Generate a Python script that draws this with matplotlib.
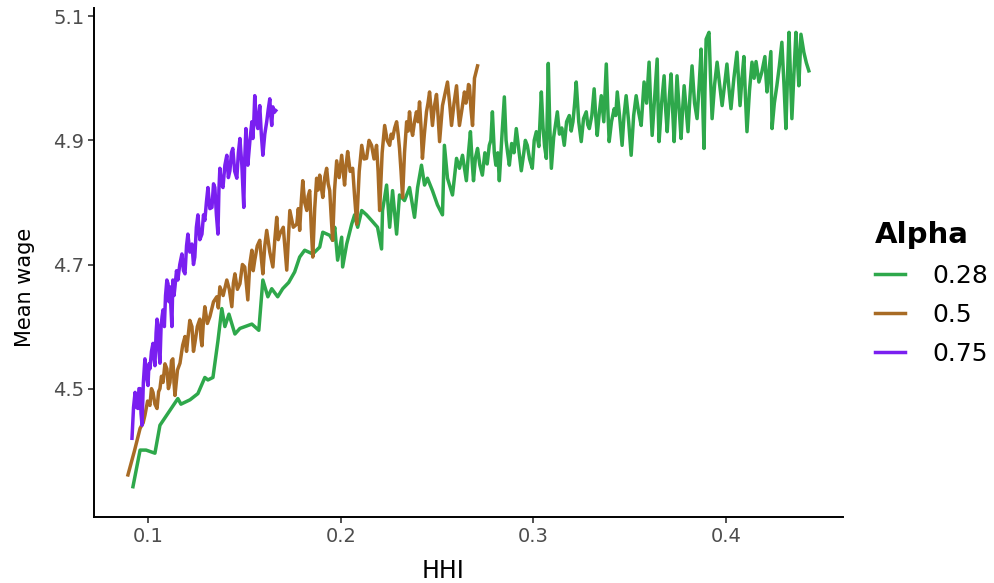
import matplotlib
matplotlib.use('Agg')
from matplotlib import pyplot as plt

# Alpha = 0.28 (green)
hhi_028 = [0.0922, 0.0959, 0.0990, 0.1036, 0.1062, 0.1114, 0.1155, 0.1171, 0.1218, 0.1259,
           0.1295, 0.1311, 0.1337, 0.1363, 0.1383, 0.1399, 0.1420, 0.1451, 0.1477, 0.1539,
           0.1575, 0.1596, 0.1622, 0.1642, 0.1673, 0.1699, 0.1730, 0.1761,
           0.1787, 0.1813, 0.1855, 0.1891, 0.1907, 0.1943, 0.1958, 0.1969, 0.1984, 0.2005,
           0.2010, 0.2031, 0.2057, 0.2072, 0.2088, 0.2109, 0.2134, 0.2160, 0.2191, 0.2212,
           0.2217, 0.2238, 0.2254, 0.2269, 0.2290, 0.2305, 0.2331, 0.2357, 0.2383, 0.2399,
           0.2419, 0.2435, 0.2450, 0.2476, 0.2502, 0.2528, 0.2538, 0.2554, 0.2580, 0.2601,
           0.2616, 0.2632, 0.2652,
           0.2663, 0.2673, 0.2681, 0.2689, 0.2699, 0.2710, 0.2722, 0.2735, 0.2748, 0.2760,
           0.2771, 0.2779, 0.2787, 0.2797, 0.2805, 0.2815, 0.2823, 0.2836, 0.2849, 0.2858,
           0.2866, 0.2875, 0.2887, 0.2899, 0.2911, 0.2924, 0.2937, 0.2950, 0.2958, 0.2968,
           0.2980, 0.2994, 0.3004, 0.3015, 0.3028, 0.3041, 0.3050, 0.3058, 0.3067, 0.3077,
           0.3085, 0.3093, 0.3105, 0.3114, 0.3124, 0.3135, 0.3147, 0.3160, 0.3172, 0.3186,
           0.3196, 0.3205, 0.3214, 0.3222, 0.3235, 0.3248, 0.3260, 0.3274, 0.3282, 0.3290,
           0.3303, 0.3315, 0.3323, 0.3331, 0.3342, 0.3352, 0.3365, 0.3378, 0.3386, 0.3393,
           0.3405, 0.3419, 0.3427, 0.3435, 0.3448, 0.3460, 0.3470, 0.3481, 0.3494, 0.3507,
           0.3520, 0.3533, 0.3546, 0.3559, 0.3567, 0.3574, 0.3587, 0.3600, 0.3608, 0.3616,
           0.3629, 0.3642, 0.3647, 0.3652, 0.3665, 0.3678, 0.3686, 0.3694, 0.3704, 0.3714,
           0.3722, 0.3730, 0.3738, 0.3745, 0.3756, 0.3766, 0.3774, 0.3782, 0.3792, 0.3802,
           0.3812, 0.3823, 0.3836, 0.3849, 0.3860, 0.3870, 0.3878, 0.3885, 0.3890, 0.3896,
           0.3911, 0.3919, 0.3927, 0.3940, 0.3953, 0.3966, 0.3979, 0.3992, 0.4004, 0.4014,
           0.4025, 0.4040, 0.4056, 0.4064, 0.4072, 0.4082, 0.4092, 0.4100, 0.4108, 0.4121,
           0.4134, 0.4145, 0.4155, 0.4163, 0.4170, 0.4185, 0.4201, 0.4207, 0.4212, 0.4222,
           0.4232, 0.4235, 0.4238, 0.4250, 0.4263, 0.4276, 0.4289, 0.4300, 0.4310, 0.4318,
           0.4326, 0.4334, 0.4341, 0.4352, 0.4362, 0.4370, 0.4377, 0.4383, 0.4388, 0.4396,
           0.4403, 0.4416, 0.4429]
wage_028 = [4.342, 4.401, 4.401, 4.396, 4.441, 4.465, 4.484, 4.475, 4.482, 4.492,
            4.518, 4.514, 4.518, 4.577, 4.629, 4.600, 4.620, 4.588, 4.597, 4.604,
            4.594, 4.675, 4.648, 4.661, 4.648, 4.661, 4.671, 4.688,
            4.712, 4.723, 4.717, 4.728, 4.752, 4.747, 4.739, 4.760, 4.707, 4.744,
            4.696, 4.733, 4.765, 4.780, 4.760, 4.787, 4.780, 4.771, 4.760, 4.725,
            4.787, 4.828, 4.760, 4.819, 4.749, 4.812, 4.803, 4.824, 4.776, 4.824,
            4.860, 4.828, 4.839, 4.819, 4.796, 4.780, 4.892, 4.839, 4.812, 4.871,
            4.855, 4.876, 4.835,
            4.880, 4.914, 4.870, 4.835, 4.872, 4.887, 4.860, 4.844, 4.880, 4.862,
            4.892, 4.900, 4.946, 4.880, 4.860, 4.880, 4.835, 4.905, 4.970, 4.900,
            4.880, 4.860, 4.895, 4.880, 4.919, 4.885, 4.851, 4.880, 4.900, 4.892,
            4.870, 4.855, 4.900, 4.914, 4.890, 4.978, 4.920, 4.890, 4.871, 5.024,
            4.920, 4.855, 4.905, 4.925, 4.946, 4.910, 4.920, 4.892, 4.930, 4.940,
            4.915, 4.930, 4.960, 4.994, 4.930, 4.898, 4.935, 4.946, 4.925, 4.919,
            4.940, 4.983, 4.940, 4.908, 4.945, 4.972, 4.930, 5.023, 4.950, 4.898,
            4.930, 4.951, 4.940, 4.978, 4.935, 4.892, 4.940, 4.972, 4.930, 4.876,
            4.940, 4.972, 4.945, 4.924, 4.960, 4.994, 4.960, 5.026, 4.960, 4.908,
            4.970, 5.031, 4.950, 4.898, 4.960, 5.004, 4.950, 4.914, 4.965, 5.007,
            4.950, 4.898, 4.955, 5.004, 4.950, 4.903, 4.950, 4.988, 4.950, 4.914,
            4.970, 5.020, 4.960, 4.935, 4.990, 5.047, 4.960, 4.887, 4.980, 5.063,
            5.074, 5.000, 4.935, 4.990, 5.026, 4.990, 4.956, 4.990, 5.023, 4.985,
            4.951, 5.000, 5.042, 5.000, 4.956, 5.000, 5.035, 4.970, 4.914, 4.980,
            5.026, 5.000, 5.027, 5.010, 4.994, 5.010, 5.035, 5.000, 4.978, 5.010,
            5.043, 4.980, 4.919, 4.960, 4.988, 5.020, 5.058, 4.990, 4.919, 5.000,
            5.074, 5.000, 4.935, 5.010, 5.074, 5.030, 4.988, 5.030, 5.071, 5.055,
            5.042, 5.025, 5.012]

# Alpha = 0.5 (brown)
hhi_05 = [0.0896, 0.0930, 0.0959, 0.0975, 0.0984, 0.0998, 0.1010, 0.1018, 0.1026, 0.1036,
          0.1047, 0.1055, 0.1062, 0.1070, 0.1078, 0.1088, 0.1098, 0.1106, 0.1114, 0.1122,
          0.1129, 0.1135, 0.1140, 0.1153, 0.1166, 0.1180, 0.1192, 0.1200, 0.1207, 0.1217,
          0.1228, 0.1236, 0.1243, 0.1256, 0.1269, 0.1275, 0.1280, 0.1288, 0.1295, 0.1308,
          0.1321, 0.1340, 0.1357, 0.1365, 0.1373, 0.1390, 0.1409, 0.1422, 0.1435, 0.1443,
          0.1451, 0.1464, 0.1477, 0.1490, 0.1502, 0.1510, 0.1518, 0.1528, 0.1539, 0.1546,
          0.1554, 0.1567, 0.1580, 0.1588, 0.1596, 0.1606, 0.1616, 0.1632, 0.1648, 0.1658,
          0.1668, 0.1676, 0.1684, 0.1702, 0.1720, 0.1728, 0.1736, 0.1754, 0.1772, 0.1780,
          0.1787, 0.1795, 0.1803, 0.1813, 0.1824, 0.1831, 0.1839, 0.1847, 0.1855, 0.1865,
          0.1875, 0.1883, 0.1891, 0.1899, 0.1907, 0.1917, 0.1927, 0.1935, 0.1943, 0.1950,
          0.1958, 0.1968, 0.1979, 0.1992, 0.2005, 0.2013, 0.2020, 0.2028, 0.2036, 0.2049,
          0.2062, 0.2072, 0.2083, 0.2096, 0.2109, 0.2121, 0.2134, 0.2147, 0.2160, 0.2173,
          0.2186, 0.2194, 0.2202, 0.2215, 0.2228, 0.2241, 0.2254, 0.2262, 0.2269, 0.2280,
          0.2290, 0.2298, 0.2305, 0.2313, 0.2321, 0.2331, 0.2342, 0.2350, 0.2357, 0.2365,
          0.2373, 0.2383, 0.2393, 0.2401, 0.2409, 0.2417, 0.2424, 0.2434, 0.2445, 0.2453,
          0.2461, 0.2469, 0.2476, 0.2486, 0.2497, 0.2505, 0.2513, 0.2521, 0.2528, 0.2541,
          0.2554, 0.2565, 0.2575, 0.2588, 0.2601, 0.2609, 0.2616, 0.2629, 0.2642, 0.2650,
          0.2658, 0.2663, 0.2668, 0.2676, 0.2684, 0.2689, 0.2694, 0.2702, 0.2710]
wage_05 = [4.361, 4.400, 4.436, 4.445, 4.457, 4.480, 4.473, 4.500, 4.494, 4.475,
           4.468, 4.495, 4.500, 4.520, 4.510, 4.540, 4.532, 4.500, 4.510, 4.545,
           4.548, 4.510, 4.489, 4.530, 4.541, 4.570, 4.584, 4.560, 4.580, 4.610,
           4.600, 4.560, 4.573, 4.600, 4.612, 4.580, 4.569, 4.610, 4.632, 4.605,
           4.616, 4.640, 4.648, 4.630, 4.664, 4.650, 4.675, 4.660, 4.632, 4.670,
           4.685, 4.660, 4.669, 4.700, 4.696, 4.670, 4.643, 4.700, 4.723, 4.690,
           4.707, 4.730, 4.739, 4.710, 4.685, 4.730, 4.755, 4.720, 4.696, 4.740,
           4.776, 4.740, 4.749, 4.760, 4.691, 4.740, 4.787, 4.760, 4.765, 4.790,
           4.755, 4.800, 4.835, 4.800, 4.787, 4.810, 4.819, 4.760, 4.712, 4.790,
           4.839, 4.820, 4.844, 4.825, 4.808, 4.840, 4.855, 4.830, 4.819, 4.780,
           4.739, 4.820, 4.867, 4.840, 4.876, 4.850, 4.828, 4.860, 4.882, 4.850,
           4.855, 4.810, 4.765, 4.850, 4.892, 4.870, 4.871, 4.900, 4.892, 4.870,
           4.892, 4.850, 4.787, 4.880, 4.924, 4.900, 4.892, 4.910, 4.903, 4.920,
           4.930, 4.910, 4.887, 4.850, 4.808, 4.880, 4.930, 4.915, 4.946, 4.920,
           4.908, 4.930, 4.946, 4.930, 4.962, 4.920, 4.871, 4.910, 4.946, 4.960,
           4.978, 4.950, 4.924, 4.955, 4.974, 4.940, 4.898, 4.930, 4.956, 4.975,
           4.994, 4.960, 4.924, 4.960, 4.988, 4.950, 4.924, 4.950, 4.978, 4.960,
           4.974, 4.990, 4.988, 4.950, 4.924, 4.960, 5.000, 5.010, 5.020]

# Alpha = 0.75 (purple)
hhi_075 = [0.0917, 0.0925, 0.0933, 0.0940, 0.0948, 0.0953, 0.0959, 0.0964, 0.0969, 0.0976,
           0.0984, 0.0992, 0.1000, 0.1005, 0.1010, 0.1018, 0.1026, 0.1031, 0.1036, 0.1042,
           0.1047, 0.1052, 0.1057, 0.1062, 0.1068, 0.1073, 0.1078, 0.1085, 0.1091, 0.1098,
           0.1104, 0.1109, 0.1114, 0.1119, 0.1124, 0.1129, 0.1135, 0.1140, 0.1148, 0.1155,
           0.1165, 0.1176, 0.1184, 0.1192, 0.1200, 0.1207, 0.1217, 0.1228, 0.1236, 0.1243,
           0.1251, 0.1259, 0.1269, 0.1280, 0.1288, 0.1295, 0.1303, 0.1311, 0.1321, 0.1332,
           0.1340, 0.1347, 0.1355, 0.1363, 0.1368, 0.1373, 0.1381, 0.1389, 0.1399, 0.1409,
           0.1417, 0.1425, 0.1433, 0.1440, 0.1450, 0.1461, 0.1469, 0.1477, 0.1487, 0.1497,
           0.1502, 0.1508, 0.1513, 0.1518, 0.1529, 0.1539, 0.1544, 0.1549, 0.1554, 0.1562,
           0.1570, 0.1575, 0.1580, 0.1588, 0.1596, 0.1606, 0.1616, 0.1624, 0.1632, 0.1637,
           0.1642, 0.1648, 0.1655, 0.1663]
wage_075 = [4.420, 4.470, 4.494, 4.470, 4.468, 4.500, 4.500, 4.460, 4.441, 4.510,
            4.548, 4.520, 4.505, 4.540, 4.532, 4.560, 4.573, 4.550, 4.537, 4.590,
            4.612, 4.600, 4.560, 4.541, 4.600, 4.616, 4.627, 4.600, 4.650, 4.675,
            4.669, 4.640, 4.664, 4.630, 4.600, 4.675, 4.650, 4.664, 4.690, 4.675,
            4.700, 4.717, 4.690, 4.685, 4.730, 4.749, 4.720, 4.733, 4.700, 4.712,
            4.760, 4.780, 4.740, 4.749, 4.780, 4.771, 4.800, 4.824, 4.790, 4.792,
            4.830, 4.824, 4.780, 4.749, 4.820, 4.855, 4.830, 4.824, 4.860, 4.876,
            4.840, 4.851, 4.880, 4.887, 4.850, 4.839, 4.880, 4.903, 4.860, 4.792,
            4.870, 4.919, 4.890, 4.860, 4.900, 4.930, 4.903, 4.930, 4.972, 4.930,
            4.919, 4.940, 4.956, 4.910, 4.876, 4.910, 4.930, 4.950, 4.967, 4.940,
            4.924, 4.954, 4.945, 4.948]

series = [('0.28', hhi_028, wage_028, '#2ea84b'),
          ('0.5', hhi_05, wage_05, '#a86b25'),
          ('0.75', hhi_075, wage_075, '#7a1ff0')]

plt.rcParams['font.family'] = ['DejaVu Sans']

fig = plt.figure(figsize=(9.95, 5.83), dpi=100)
ax = fig.add_axes([0.0945, 0.113, 0.7525, 0.873])

for lab, xs, ys, col in series:
    ax.plot(xs, ys, color=col, lw=2.5, label=lab, solid_joinstyle='round')

ax.set_xlim(0.072, 0.4605)
ax.set_ylim(4.293, 5.113)
ax.set_xticks([0.1, 0.2, 0.3, 0.4])
ax.set_xticklabels(['0.1', '0.2', '0.3', '0.4'])
ax.set_yticks([4.5, 4.7, 4.9, 5.1])
ax.set_yticklabels(['4.5', '4.7', '4.9', '5.1'])

for s in ['top', 'right']:
    ax.spines[s].set_visible(False)
for s in ['left', 'bottom']:
    ax.spines[s].set_linewidth(1.4)
    ax.spines[s].set_color('black')
ax.tick_params(length=4, width=1.2, color='#333333', labelcolor='#4d4d4d',
               labelsize=14, pad=3)

ax.set_xlabel('HHI', fontsize=17)
ax.set_ylabel('Mean wage', fontsize=15)
ax.xaxis.set_label_coords(0.466, -0.082)
ax.yaxis.set_label_coords(-0.079, 0.452)

leg = ax.legend(title='Alpha', loc='center left', bbox_to_anchor=(1.03, 0.44),
                frameon=False, fontsize=18, handlelength=1.2, handletextpad=1.1,
                labelspacing=0.6, borderaxespad=0)
leg.get_title().set_fontsize(21)
leg.get_title().set_fontweight('bold')
leg._legend_box.align = 'left'

fig.savefig('out.png', dpi=100)
